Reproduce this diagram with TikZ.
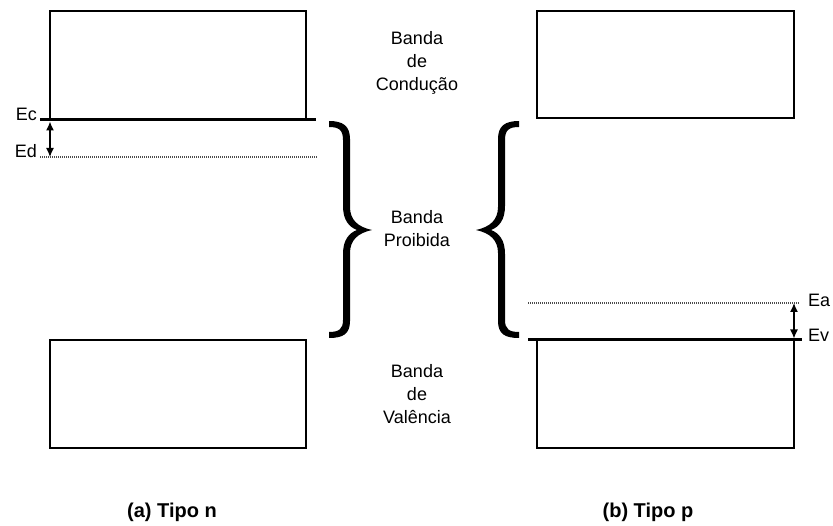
\documentclass[tikz,border=0pt]{standalone}
\usepackage{fontspec}
\setmainfont{Liberation Sans}
\usetikzlibrary{arrows.meta}
\newcommand\gapbraceshape{%
  (329,121) .. controls (343,121) and (350,126) .. (350,139)
  -- (350,207) .. controls (350,220) and (358,227) .. (372,230)
  .. controls (358,233) and (350,240) .. (350,253)
  -- (350,321) .. controls (350,334) and (343,338) .. (329,338)
  -- (329,332) .. controls (339,332) and (343,329) .. (343,320)
  -- (343,254) .. controls (343,240) and (349,233) .. (357,230)
  .. controls (349,227) and (343,220) .. (343,206)
  -- (343,140) .. controls (343,130) and (339,127) .. (329,127) -- cycle}
\begin{document}
\begin{tikzpicture}[x=1pt,y=-1pt,
  bandbox/.style={draw=black,line width=1.6pt},
  level/.style={line width=3pt},
  dotlevel/.style={draw=black!70,line width=1.3pt,dash pattern=on 1pt off 1pt},
  gaparrow/.style={line width=1.4pt,{Latex[length=9pt,width=8pt]}-{Latex[length=9pt,width=8pt]}},
  bracefill/.style={fill=black,draw=none},
  lbl/.style={font=\fontsize{18}{20}\selectfont,inner sep=0pt},
  bandtxt/.style={font=\fontsize{18}{23}\selectfont,align=center,inner sep=0pt},
  caption/.style={font=\fontsize{20}{22}\selectfont\bfseries,inner sep=0pt}]
\useasboundingbox (0,0) rectangle (833,526);
% boxes
\draw[bandbox] (50,120) -- (50,11) -- (306,11) -- (306,120);
\draw[bandbox] (50,340) rectangle (306,448);
\draw[bandbox] (537,11) rectangle (794,118);
\draw[bandbox] (537,340) -- (537,448) -- (794,448) -- (794,340);
% left levels
\coordinate (ecL) at (40,120);
\coordinate (ecR) at (316,120);
\coordinate (edL) at (40,157);
\coordinate (edR) at (318,157);
\draw[level] (ecL) -- (ecR);
\draw[dotlevel] (edL) -- (edR);
\coordinate (ecA) at (50,121.5);
\coordinate (edA) at (50,157);
\draw[gaparrow] (ecA) -- (edA);
\node[lbl,anchor=east] (ec) at (37,114) {Ec};
\node[lbl,anchor=east] (ed) at (37,151) {Ed};
% right levels
\coordinate (evL) at (528,340);
\coordinate (evR) at (802,340);
\coordinate (eaL) at (528,303);
\coordinate (eaR) at (800,303);
\draw[level] (evL) -- (evR);
\draw[dotlevel] (eaL) -- (eaR);
\coordinate (eaA) at (794,303);
\coordinate (evA) at (794,338.5);
\draw[gaparrow] (eaA) -- (evA);
\node[lbl,anchor=west] (ea) at (808,300) {Ea};
\node[lbl,anchor=west] (ev) at (808,335) {Ev};
% braces
\fill[bracefill] \gapbraceshape;
\begin{scope}[xshift=848pt,xscale=-1]
\fill[bracefill] \gapbraceshape;
\end{scope}
% band texts
\node[bandtxt] (cond) at (417,63) {Banda\\de\\Condução};
\node[bandtxt] (proib) at (417,229) {Banda\\Proibida};
\node[bandtxt] (val) at (417,394) {Banda\\de\\Valência};
% captions
\node[caption] (capa) at (172,512) {(a) Tipo n};
\node[caption] (capb) at (648,512) {(b) Tipo p};
\end{tikzpicture}
\end{document}
